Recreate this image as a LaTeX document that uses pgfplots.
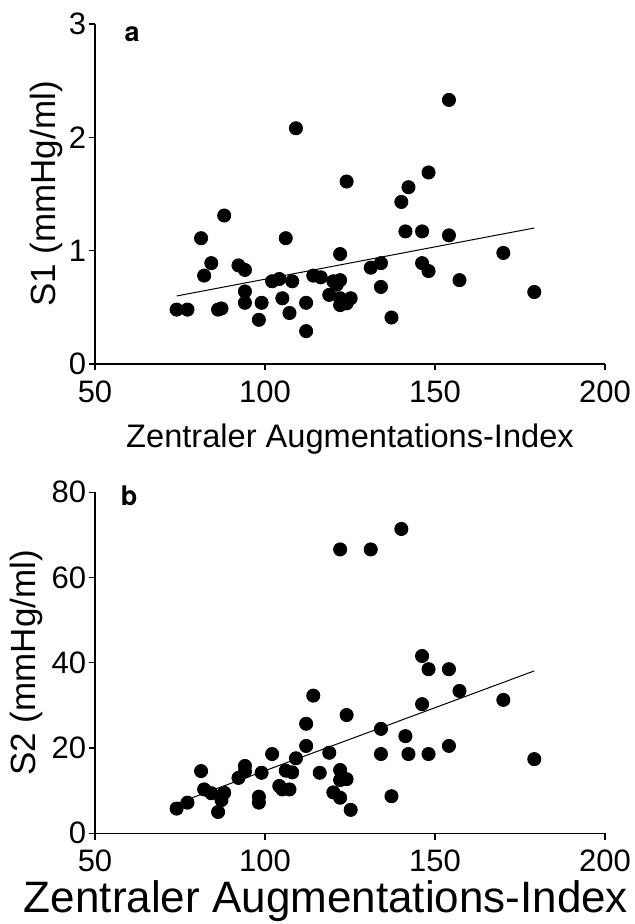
\documentclass[border=0pt]{standalone}
\usepackage{fontspec}
\setmainfont{Liberation Sans}
\newfontfamily\abfont{TeX Gyre Heros}
\usepackage{pgfplots}
\pgfplotsset{compat=1.18}
\usepackage{pgfplotstable}

\pgfplotstableread{
x y
74.0 0.48
77.2 0.48
81.2 1.11
82.1 0.78
84.2 0.89
86.2 0.48
87.2 0.49
88.0 1.31
92.2 0.87
94.1 0.83
94.1 0.64
94.1 0.54
98.2 0.39
99.0 0.54
102.1 0.73
104.2 0.75
105.1 0.58
106.1 1.11
107.2 0.45
108.0 0.73
109.1 2.08
112.1 0.54
112.1 0.29
114.2 0.78
116.4 0.765
118.9 0.61
120.1 0.73
121.1 0.70
122.1 0.97
122.1 0.74
122.1 0.52
122.1 0.58
124.0 1.61
124.0 0.535
125.2 0.58
131.1 0.85
134.1 0.89
134.1 0.68
137.2 0.41
140.1 1.43
141.3 1.17
142.2 1.56
146.2 1.17
146.2 0.89
148.1 1.69
148.1 0.82
154.1 2.33
154.1 1.135
157.2 0.74
170.1 0.98
179.2 0.635
}\dataA

\pgfplotstableread{
x y
74.0 5.8
77.2 7.2
81.2 14.6
82.1 10.3
84.2 9.4
86.2 5.0
87.2 7.8
88.0 9.5
92.2 13.0
94.1 15.8
94.1 14.5
98.2 8.6
98.2 7.2
99.0 14.2
102.1 18.6
104.2 11.1
105.1 10.3
106.1 14.7
107.2 10.3
108.0 14.3
109.1 17.6
112.1 20.5
112.1 25.7
114.2 32.3
116.1 14.2
118.9 18.9
120.1 9.6
122.1 14.85
122.1 12.5
122.1 8.35
122.1 66.6
124.0 27.75
124.0 12.7
125.2 5.5
131.1 66.6
140.1 71.4
146.2 41.6
148.1 38.5
154.1 38.5
157.2 33.4
146.2 30.3
170.1 31.3
134.1 24.5
141.3 22.8
134.1 18.6
142.2 18.6
148.1 18.6
154.1 20.5
179.2 17.4
137.2 8.7
}\dataB

\pgfplotsset{
  mystyle/.style={
    scale only axis,
    width=255pt,
    axis x line=bottom,
    axis y line=left,
    axis line style={-, line width=0.6pt, black},
    tick align=outside,
    major tick length=3.2pt,
    tick style={line width=0.6pt, black},
    xmin=50, xmax=200,
    xtick={50,100,150,200},
    minor tick num=0,
    /pgf/number format/assume math mode=true,
    ticklabel style={font=\fontsize{15.5}{18}\selectfont},
    yticklabel style={inner xsep=1pt, inner ysep=0pt},
    xticklabel style={inner ysep=0pt, yshift=-5pt},
    clip=false,
  }
}

\begin{document}
\begin{tikzpicture}
\path[use as bounding box] (0pt,0pt) rectangle (317.5pt,-462pt);

\begin{axis}[mystyle,
  at={(47.5pt,-182pt)}, anchor=south west,
  height=170pt,
  ymin=0, ymax=3, ytick={0,1,2,3},
  xlabel={Zentraler Augmentations-Index},
  xlabel style={at={(axis description cs:0.5,-0.247)}, anchor=base, font=\fontsize{16.3}{19}\selectfont},
  ylabel={S1 (mmHg/ml)},
  ylabel style={at={(axis description cs:-0.0784,0.5)}, anchor=base, font=\fontsize{17.5}{20}\selectfont},
]
\addplot[only marks, mark=*, mark size=3.3pt, black, fill=black] table[x=x,y=y] {\dataA};
\addplot[black, line width=0.5pt] coordinates {(74,0.60) (179.2,1.20)};
\node at (axis cs:60.9,2.91) {\abfont\bfseries\fontsize{13.5}{15}\selectfont a};
\end{axis}

\begin{axis}[mystyle,
  at={(47.5pt,-416.65pt)}, anchor=south west,
  height=170.5pt,
  ymin=0, ymax=80, ytick={0,20,40,60,80},
  xlabel={Zentraler Augmentations-Index},
  xlabel style={at={(axis description cs:0.453,-0.2308)}, anchor=base, font=\fontsize{22}{25}\selectfont},
  ylabel={S2 (mmHg/ml)},
  ylabel style={at={(axis description cs:-0.1157,0.5)}, anchor=base, font=\fontsize{17.5}{20}\selectfont},
]
\addplot[only marks, mark=*, mark size=3.3pt, black, fill=black] table[x=x,y=y] {\dataB};
\addplot[black, line width=0.5pt] coordinates {(74,7.0) (179.2,38.1)};
\node at (axis cs:60,79.3) {\abfont\bfseries\fontsize{13.5}{15}\selectfont b};
\end{axis}
\end{tikzpicture}
\end{document}
